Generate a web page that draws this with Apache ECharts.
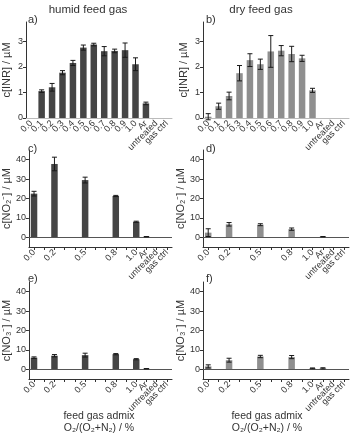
<!DOCTYPE html>
<html lang="en">
<head>
    <meta charset="UTF-8">
    <title>feed gas admix</title>
    <style>
        body { margin: 0; background: #fff; }
        #chart { width: 351px; height: 436px; }
    </style>
</head>
<body>
    <div id="chart"></div>
    <script src="https://cdn.jsdelivr.net/npm/echarts@6/dist/echarts.min.js"></script>
    <script>
        const categories = ['0.0', '0.1', '0.2', '0.3', '0.4', '0.5', '0.6', '0.7', '0.8', '0.9', '1.0', 'Ar', 'untreated', 'gas ctrl'];
        const sparseLabels = [0, 2, 5, 8, 10, 11, 12, 13];

        // c[INR] / µM
        const humidINR    = [0, 1.05, 1.2, 1.77, 2.15, 2.75, 2.87, 2.61, 2.62, 2.65, 2.1, 0.57, 0, 0];
        const humidINRErr = [0, 0.05, 0.15, 0.08, 0.1, 0.1, 0.05, 0.18, 0.07, 0.28, 0.25, 0.05, 0, 0];
        const dryINR      = [0.05, 0.46, 0.86, 1.75, 2.26, 2.1, 2.6, 2.63, 2.5, 2.33, 1.08, 0, 0, 0];
        const dryINRErr   = [0.12, 0.12, 0.15, 0.3, 0.25, 0.2, 0.62, 0.2, 0.3, 0.12, 0.08, 0, 0, 0];

        // c[NO2-] / µM
        const humidNO2    = [22.5, null, 37.8, null, null, 29.5, null, null, 21.3, null, 8.0, 0.3, 0, null];
        const humidNO2Err = [1.2, null, 3.5, null, null, 1.5, null, null, 0.3, null, 0.3, 0.1, 0, null];
        const dryNO2      = [2.4, null, 6.7, null, null, 6.5, null, null, 4.2, null, 0, 0.3, 0, null];
        const dryNO2Err   = [2.0, null, 0.9, null, null, 0.5, null, null, 0.6, null, 0, 0.1, 0, null];

        // c[NO3-] / µM
        const humidNO3    = [6.0, null, 7.0, null, null, 7.3, null, null, 7.8, null, 5.2, 0.3, 0.1, null];
        const humidNO3Err = [0.4, null, 0.6, null, null, 1.0, null, null, 0.3, null, 0.3, 0.1, 0, null];
        const dryNO3      = [1.5, null, 4.7, null, null, 6.6, null, null, 6.3, null, 0.5, 0.5, 0, null];
        const dryNO3Err   = [0.8, null, 1.0, null, null, 0.6, null, null, 0.8, null, 0.2, 0.3, 0, null];

        const font = 'Liberation Sans, Arial, sans-serif';
        const ink = '#333';
        const humidColor = '#454545';
        const dryColor = '#8f8f8f';

        const grids = [
            { left: 25, top: 22, width: 147, height: 96 },
            { left: 203, top: 22, width: 146, height: 96 },
            { left: 25, top: 150, width: 147, height: 97 },
            { left: 203, top: 150, width: 146, height: 97 },
            { left: 25, top: 282, width: 147, height: 97 },
            { left: 203, top: 282, width: 146, height: 97 }
        ];

        const panels = [
            { vals: humidINR, errs: humidINRErr, color: humidColor, name: 'c[INR] / µM', inr: true },
            { vals: dryINR, errs: dryINRErr, color: dryColor, name: 'c[INR] / µM', inr: true },
            { vals: humidNO2, errs: humidNO2Err, color: humidColor, name: 'c[NO₂⁻] / µM' },
            { vals: dryNO2, errs: dryNO2Err, color: dryColor, name: 'c[NO₂⁻] / µM' },
            { vals: humidNO3, errs: humidNO3Err, color: humidColor, name: 'c[NO₃⁻] / µM' },
            { vals: dryNO3, errs: dryNO3Err, color: dryColor, name: 'c[NO₃⁻] / µM' }
        ];

        const xAxis = panels.map((p, i) => ({
            type: 'category',
            gridIndex: i,
            data: categories,
            axisLine: { onZero: false, lineStyle: { color: p.inr ? '#bbb' : ink, width: 1 } },
            axisTick: { show: !p.inr, alignWithLabel: true, interval: 0, length: 3, lineStyle: { color: ink } },
            axisLabel: {
                rotate: 45,
                fontSize: 9,
                fontFamily: font,
                color: ink,
                margin: 4,
                interval: 0,
                formatter: (val, idx) => (p.inr || sparseLabels.includes(idx)) ? val : ''
            }
        }));

        const yAxis = panels.map((p, i) => ({
            type: 'value',
            gridIndex: i,
            min: p.inr ? 0 : -5,
            max: p.inr ? 3.75 : 45,
            interval: p.inr ? 1 : 10,
            name: p.name,
            nameLocation: 'middle',
            nameGap: 14,
            nameTextStyle: { fontSize: 11, fontFamily: font, color: ink },
            splitLine: { show: false },
            axisLine: { show: true, lineStyle: { color: ink } },
            axisTick: { show: true, length: 3, lineStyle: { color: ink },
                customValues: p.inr ? [0, 1, 2, 3] : [0, 10, 20, 30, 40] },
            axisLabel: { fontSize: 9, fontFamily: font, color: ink, margin: 3,
                customValues: p.inr ? [0, 1, 2, 3] : [0, 10, 20, 30, 40] }
        }));

        function errData(vals, errs) {
            const out = [];
            vals.forEach((v, i) => {
                if (v !== null && errs[i]) out.push([i, v - errs[i], v + errs[i]]);
            });
            return out;
        }

        function renderErr(params, api) {
            const lo = api.coord([api.value(0), api.value(1)]);
            const hi = api.coord([api.value(0), api.value(2)]);
            const half = 2.5;
            const style = { stroke: '#1a1a1a', lineWidth: 1 };
            return {
                type: 'group',
                children: [
                    { type: 'line', shape: { x1: hi[0], y1: hi[1], x2: lo[0], y2: lo[1] }, style },
                    { type: 'line', shape: { x1: hi[0] - half, y1: hi[1], x2: hi[0] + half, y2: hi[1] }, style },
                    { type: 'line', shape: { x1: lo[0] - half, y1: lo[1], x2: lo[0] + half, y2: lo[1] }, style }
                ]
            };
        }

        const series = [];
        panels.forEach((p, i) => {
            const bar = {
                type: 'bar',
                xAxisIndex: i,
                yAxisIndex: i,
                data: p.vals,
                barWidth: 6.5,
                itemStyle: { color: p.color },
                silent: true
            };
            if (!p.inr) {
                bar.markLine = {
                    silent: true,
                    symbol: 'none',
                    label: { show: false },
                    lineStyle: { color: '#555', width: 1, type: 'solid' },
                    data: [{ yAxis: 0 }]
                };
            }
            series.push(bar);
            series.push({
                type: 'custom',
                xAxisIndex: i,
                yAxisIndex: i,
                data: errData(p.vals, p.errs),
                renderItem: renderErr,
                z: 5,
                silent: true
            });
        });

        function txt(text, x, y, size, align) {
            return {
                type: 'text',
                x: x, y: y,
                style: { text: text, fontSize: size, fontFamily: font, fill: ink,
                    align: align || 'center', verticalAlign: 'middle' }
            };
        }

        const chart = echarts.init(document.getElementById('chart'));
        chart.setOption({
            animation: false,
            grid: grids,
            xAxis: xAxis,
            yAxis: yAxis,
            series: series,
            graphic: [
                txt('humid feed gas', 88, 10, 11.5),
                txt('dry feed gas', 261, 10, 11.5),
                txt('a)', 28, 20, 11, 'left'),
                txt('b)', 206, 20, 11, 'left'),
                txt('c)', 28, 149, 11, 'left'),
                txt('d)', 206, 149, 11, 'left'),
                txt('e)', 28, 279, 11, 'left'),
                txt('f)', 206, 279, 11, 'left'),
                txt('feed gas admix', 99, 416, 10.5),
                txt('O₂/(O₂+N₂) / %', 99, 428, 10.5),
                txt('feed gas admix', 267, 416, 10.5),
                txt('O₂/(O₂+N₂) / %', 267, 428, 10.5)
            ]
        });
    </script>
</body>
</html>
